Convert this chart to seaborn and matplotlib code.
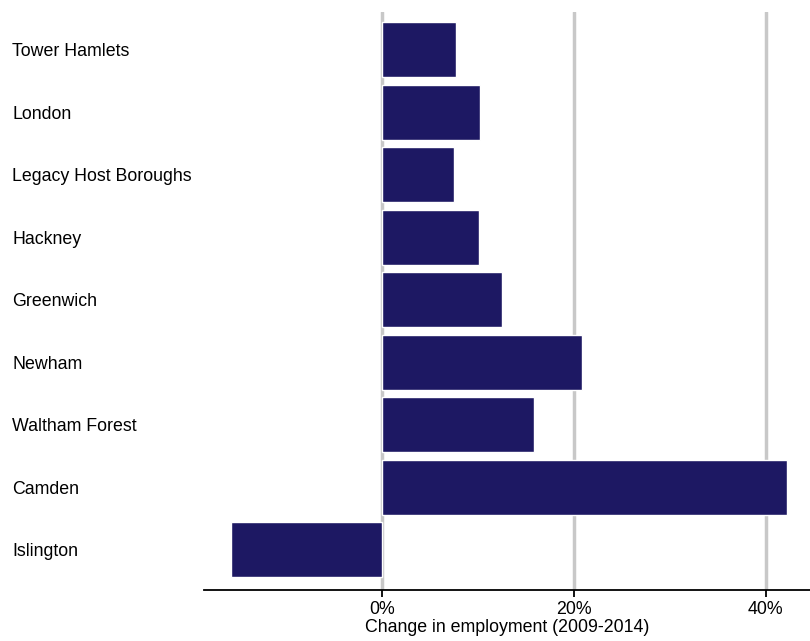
import matplotlib
matplotlib.use("Agg")
import matplotlib.pyplot as plt
import matplotlib.ticker as mticker
import pandas as pd
import seaborn as sns

areas = ["Tower Hamlets", "London", "Legacy Host Boroughs", "Hackney", "Greenwich",
         "Newham", "Waltham Forest", "Camden", "Islington"]
change_pct = [7.7, 10.2, 7.5, 10.1, 12.5, 20.9, 15.9, 42.2, -15.7]
x_ticks = [0, 20, 40]

BAR_COLOR = "#1d1863"
FS = 12.8

sns.set_theme(style="white")
plt.rcParams["font.family"] = ["Liberation Sans", "DejaVu Sans"]
plt.rcParams["text.color"] = "black"
plt.rcParams["xtick.color"] = "black"
plt.rcParams["ytick.color"] = "black"
plt.rcParams["axes.labelcolor"] = "black"

df = pd.DataFrame({"area": areas, "change": change_pct})

fig = plt.figure(figsize=(8.1, 6.41), dpi=100)
ax = fig.add_axes([0.252, 0.080, 0.748, 0.901])

sns.barplot(data=df, x="change", y="area", orient="h", color=BAR_COLOR,
            saturation=1, width=0.875, ax=ax, zorder=3)

ax.set_xlim(-18.5, 44.6)
ax.set_ylim(8.64, -0.6)
ax.set_xticks(x_ticks)
ax.xaxis.set_major_formatter(mticker.FuncFormatter(lambda v, _: f"{v:.0f}%"))
ax.xaxis.grid(True, color="#c8c8c8", linewidth=2.5, zorder=0)
ax.set_axisbelow(True)

for s in ["top", "right", "left"]:
    ax.spines[s].set_visible(False)
ax.spines["bottom"].set_color("black")
ax.spines["bottom"].set_linewidth(1.3)

ax.tick_params(axis="x", bottom=True, length=5, width=1.3, color="black",
               labelsize=FS, pad=3, direction="out")
ax.tick_params(axis="y", left=False, length=0, labelsize=FS, pad=138)
for lbl in ax.get_yticklabels():
    lbl.set_horizontalalignment("left")

ax.set_ylabel("")
ax.set_xlabel("Change in employment (2009-2014)", fontsize=FS, labelpad=1)

fig.savefig("out.png", dpi=100)
